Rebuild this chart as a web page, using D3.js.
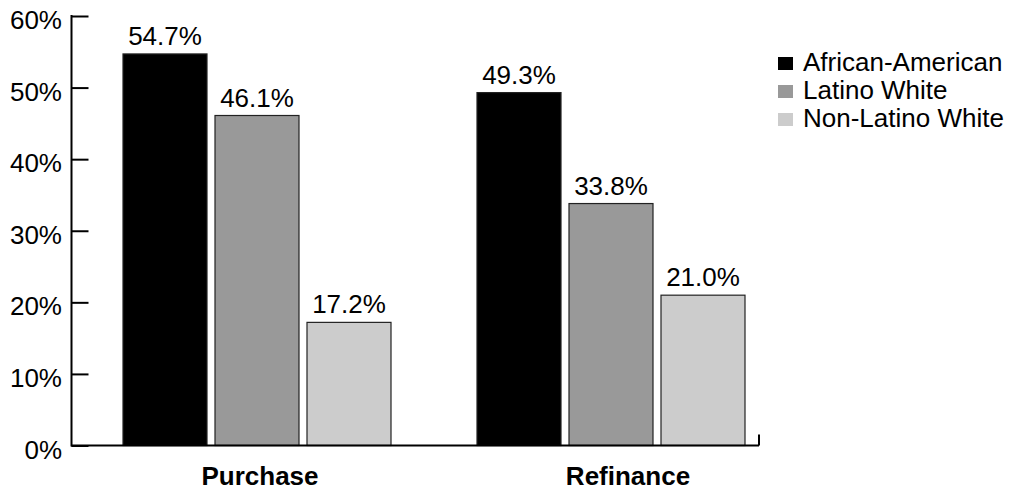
<!DOCTYPE html>
<html>
<head>
<meta charset="utf-8">
<script src="https://cdn.jsdelivr.net/npm/d3@7"></script>
<style>
  html, body { margin: 0; padding: 0; background: #fff; }
  svg { display: block; font-family: "Liberation Sans", Arial, Helvetica, sans-serif; }
</style>
</head>
<body>
<svg id="chart" width="1011" height="494"></svg>
<script>
const categories = ["Purchase", "Refinance"];
const seriesNames = ["African-American", "Latino White", "Non-Latino White"];
const seriesColors = ["#000000", "#999999", "#cccccc"];
const africanAmerican = [54.7, 49.3];
const latinoWhite = [46.1, 33.8];
const nonLatinoWhite = [17.2, 21.0];
const yTicks = [0, 10, 20, 30, 40, 50, 60];

const seriesValues = [africanAmerican, latinoWhite, nonLatinoWhite];

const svg = d3.select("#chart");
const axisX = 71.5, axisRight = 759, y0 = 445.5, yTop = 16;
const fs = 26;

const y = d3.scaleLinear().domain([0, 60]).range([y0, yTop]);
const x0 = d3.scaleBand().domain(categories).range([80, 788]).paddingInner(0).paddingOuter(0);
const x1 = d3.scaleBand().domain(seriesNames).range([0, 3 * 84 + 2 * 8]).paddingInner(8 / 92).paddingOuter(0);
const labelX = d3.scaleBand().domain(categories).range([76, 812]);

const rows = [];
categories.forEach((c, ci) => {
  seriesNames.forEach((s, si) => {
    rows.push({ cat: c, series: s, value: seriesValues[si][ci], color: seriesColors[si] });
  });
});

const groupOffset = (x0.bandwidth() - x1.range()[1]) / 2;

// bars
svg.append("g").selectAll("rect").data(rows).join("rect")
  .attr("x", d => x0(d.cat) + groupOffset + x1(d.series))
  .attr("y", d => y(d.value))
  .attr("width", x1.bandwidth())
  .attr("height", d => y0 - y(d.value))
  .attr("fill", d => d.color)
  .attr("stroke", "#222")
  .attr("stroke-width", 1.2);

// value labels
svg.append("g").selectAll("text").data(rows).join("text")
  .attr("x", d => x0(d.cat) + groupOffset + x1(d.series) + x1.bandwidth() / 2)
  .attr("y", d => y(d.value) - 9)
  .attr("text-anchor", "middle")
  .attr("font-size", fs)
  .attr("fill", "#000")
  .text(d => d.value.toFixed(1) + "%");

// y axis
const yAxis = d3.axisRight(y).tickValues(yTicks).tickSize(17).tickFormat("");
const gy = svg.append("g").attr("transform", `translate(${axisX},0)`).call(yAxis);
gy.select(".domain").remove();
gy.selectAll(".tick line").attr("stroke", "#000").attr("stroke-width", 2);
gy.append("line").attr("x1", 0).attr("x2", 0).attr("y1", yTop - 1).attr("y2", y0 + 1)
  .attr("stroke", "#000").attr("stroke-width", 2);

// y tick labels
svg.append("g").selectAll("text").data(yTicks).join("text")
  .attr("x", 62)
  .attr("y", d => y(d) + 13)
  .attr("text-anchor", "end")
  .attr("font-size", fs)
  .attr("fill", "#000")
  .text(d => d + "%");

// x axis line + end tick
svg.append("line").attr("x1", axisX).attr("x2", axisRight).attr("y1", y0).attr("y2", y0)
  .attr("stroke", "#000").attr("stroke-width", 2);
svg.append("line").attr("x1", axisRight).attr("x2", axisRight).attr("y1", y0).attr("y2", y0 - 11)
  .attr("stroke", "#000").attr("stroke-width", 2);

// category labels
svg.append("g").selectAll("text").data(categories).join("text")
  .attr("x", d => labelX(d) + labelX.bandwidth() / 2)
  .attr("y", 485)
  .attr("text-anchor", "middle")
  .attr("font-size", fs)
  .attr("font-weight", "bold")
  .attr("fill", "#000")
  .text(d => d);

// legend
const legend = svg.append("g").selectAll("g").data(seriesNames).join("g")
  .attr("transform", (d, i) => `translate(778,${57 + i * 28})`);
legend.append("rect").attr("width", 15).attr("height", 13)
  .attr("fill", (d, i) => seriesColors[i]);
legend.append("text").attr("x", 25).attr("y", 14)
  .attr("font-size", fs).attr("fill", "#000").text(d => d);
</script>
</body>
</html>
